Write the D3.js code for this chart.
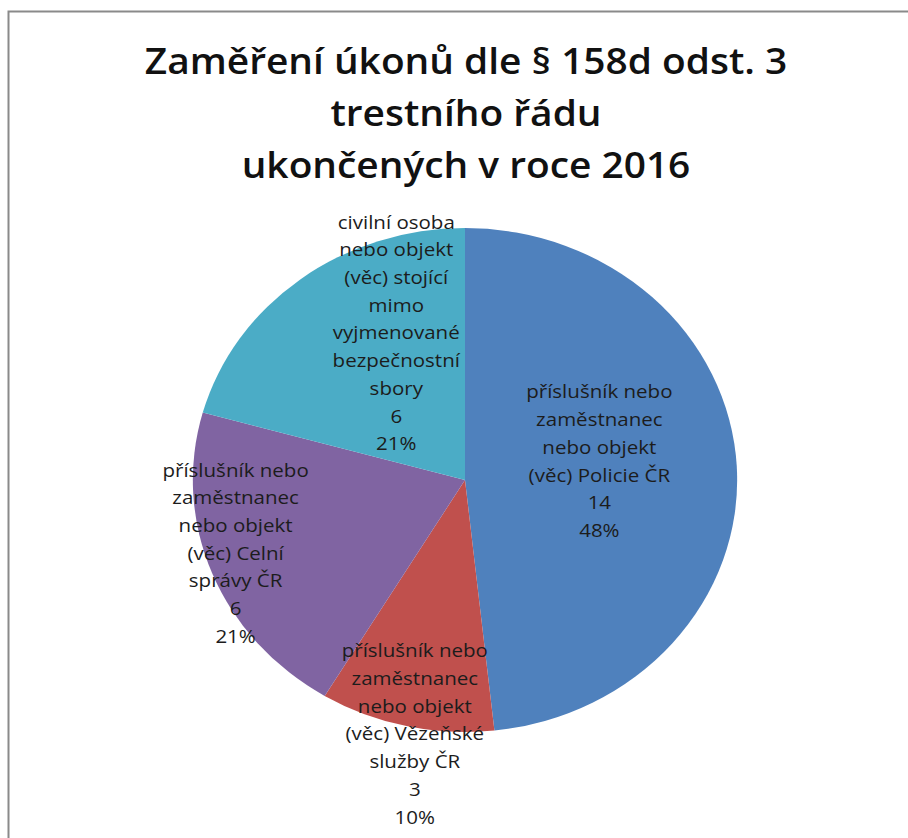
<!DOCTYPE html>
<html>
<head>
<meta charset="utf-8">
<script src="https://cdn.jsdelivr.net/npm/d3@7"></script>
<style>
  body { margin: 0; background: #fff; }
</style>
</head>
<body>
<div id="chart"></div>
<script>
const titleLines = ["Zaměření úkonů dle § 158d odst. 3", "trestního řádu", "ukončených v roce 2016"];
const categories = [
    ["příslušník nebo", "zaměstnanec", "nebo objekt", "(věc) Policie ČR"],
    ["příslušník nebo", "zaměstnanec", "nebo objekt", "(věc) Vězeňské", "služby ČR"],
    ["příslušník nebo", "zaměstnanec", "nebo objekt", "(věc) Celní", "správy ČR"],
    ["civilní osoba", "nebo objekt", "(věc) stojící", "mimo", "vyjmenované", "bezpečnostní", "sbory"]
];
const values = [14, 3, 6, 6];
const colors = ["#4F81BD", "#C0504D", "#8064A2", "#4BACC6"];

// excel "best fit" label placement: radius fraction and angle nudge per slice
const labelR = [0.5, 1.02, 0.89, 0.64];
const labelTurn = [-6, -2, 3, 14];

function main(){
    let width = 908;
    let height = 838;
    let cx = 465, cy = 480;
    let r = 252, stretch = 1.08;
    let lineH = 27.7;

    let svg = d3.select("#chart").append("svg")
        .attr("width", width)
        .attr("height", height);

    // frame of the chart area (only top and left edge visible)
    svg.append("rect")
        .attr("x", 8.5).attr("y", 11.5)
        .attr("width", 1200).attr("height", 1200)
        .attr("fill", "none")
        .attr("stroke", "#8a8a8a")
        .attr("stroke-width", 2);

    // the whole picture is a bit wider than tall, so text gets the same stretch
    let title = svg.append("text")
        .attr("transform", "translate(466,0) scale(" + stretch + ",1)")
        .attr("text-anchor", "middle")
        .attr("font-family", "Open Sans")
        .attr("font-weight", 600)
        .attr("font-size", 36)
        .attr("fill", "#111");
    titleLines.forEach(function(t, i){
        title.append("tspan")
            .attr("x", 0)
            .attr("y", 74 + i * 52)
            .text(t);
    });

    let total = d3.sum(values);
    let pie = d3.pie().sort(null).value(function(d){ return d; });
    let arcs = pie(values);
    let arc = d3.arc().innerRadius(0).outerRadius(r);

    let g = svg.append("g")
        .attr("transform", "translate(" + cx + "," + cy + ") scale(" + stretch + ",1)");

    g.selectAll("path")
        .data(arcs)
        .enter()
        .append("path")
        .attr("d", arc)
        .attr("fill", function(d, i){ return colors[i]; });

    let fmt = d3.format(".0%");
    arcs.forEach(function(d, i){
        let a = (d.startAngle + d.endAngle) / 2 + labelTurn[i] * Math.PI / 180;
        let lx = cx + Math.sin(a) * r * labelR[i] * stretch;
        let ly = cy - Math.cos(a) * r * labelR[i];
        let lines = categories[i].concat([String(values[i]), fmt(values[i] / total)]);
        let y0 = ly - (lines.length - 1) / 2 * lineH;
        let txt = svg.append("text")
            .attr("transform", "translate(" + lx + ",0) scale(" + stretch + ",1)")
            .attr("text-anchor", "middle")
            .attr("dominant-baseline", "central")
            .attr("font-family", "Open Sans")
            .attr("font-size", 19)
            .attr("fill", "#1c1c1c");
        lines.forEach(function(t, j){
            txt.append("tspan")
                .attr("x", 0)
                .attr("y", y0 + j * lineH)
                .text(t);
        });
    });
}

main();
</script>
</body>
</html>
